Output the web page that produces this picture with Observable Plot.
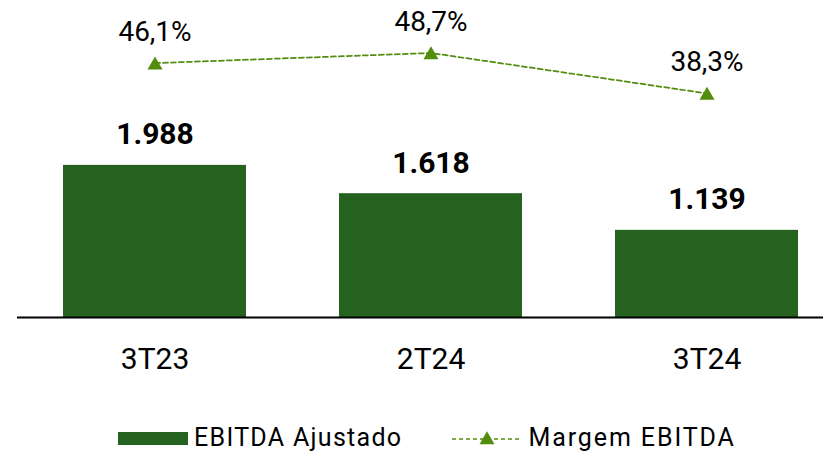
<!DOCTYPE html>
<html>
<head>
<meta charset="utf-8">
<script src="https://cdn.jsdelivr.net/npm/d3@7"></script>
<script src="https://cdn.jsdelivr.net/npm/@observablehq/plot@0.6"></script>
<style>
  html, body { margin: 0; padding: 0; background: #fff; }
  body { width: 823px; height: 452px; overflow: hidden; font-family: Roboto, sans-serif; }
  #chart { height: 412px; }
  #legend { display: flex; align-items: center; height: 28px; line-height: 28px; margin-top: 12px; padding-left: 118px; font-size: 25px; letter-spacing: 1.3px; color: #000; white-space: nowrap; }
  #legend .item { display: flex; align-items: center; }
</style>
</head>
<body>
<div id="chart"></div>
<div id="legend"></div>
<script>
const categories = ["3T23", "2T24", "3T24"];
const ebitdaAjustado = [1988, 1618, 1139];
const margemEbitda = [46.1, 48.7, 38.3];
const seriesNames = ["EBITDA Ajustado", "Margem EBITDA"];

const barColor = "#25621f";
const lineColor = "#538d0e";

const locale = d3.formatLocale({decimal: ",", thousands: ".", grouping: [3], currency: ["R$", ""]});
const fmtInt = locale.format(",d");
const fmtPct = locale.format(".1f");

const data = categories.map((c, i) => ({periodo: c, ebitda: ebitdaAjustado[i], margem: margemEbitda[i]}));

// secondary (percent) axis mapped onto the bar value scale
const pctScale = d3.scaleLinear().domain([0, 100]).range([981, 981 + 5084]);

const chart = Plot.plot({
  width: 823,
  height: 412,
  marginTop: 0,
  marginBottom: 95,
  marginLeft: 17,
  marginRight: 0,
  style: {fontFamily: "Roboto", color: "#000", background: "white"},
  x: {domain: categories, paddingInner: 0.337, paddingOuter: 0.1286, align: 0.648, label: null},
  y: {domain: [0, 4143], axis: null},
  marks: [
    Plot.barY(data, {x: "periodo", y: "ebitda", fill: barColor}),
    Plot.ruleY([0], {stroke: "#000", strokeWidth: 2}),
    Plot.axisX({tickSize: 0, tickPadding: 30, fontSize: 30, label: null}),
    Plot.text(data, {x: "periodo", y: "ebitda", text: d => fmtInt(d.ebitda), dy: -21, lineAnchor: "bottom", fontSize: 30, fontWeight: "bold", fill: "#000"}),
    Plot.line(data, {x: "periodo", y: d => pctScale(d.margem), stroke: lineColor, strokeWidth: 1.75, strokeDasharray: "5,3"}),
    Plot.dot(data, {x: "periodo", y: d => pctScale(d.margem), symbol: "triangle", r: 5.6, fill: lineColor, stroke: "none", dy: 2}),
    Plot.text(data, {x: "periodo", y: d => pctScale(d.margem), text: d => fmtPct(d.margem) + "%", dy: -22, lineAnchor: "bottom", fontSize: 28, fill: "#000"})
  ]
});
document.getElementById("chart").appendChild(chart);

const legend = document.getElementById("legend");
legend.innerHTML = `
  <div class="item"><div style="width:70px;height:13px;background:${barColor};margin-right:6px"></div><span>${seriesNames[0]}</span></div>
  <div class="item" style="margin-left:50px">
    <svg width="70" height="20" style="margin-right:6px">
      <line x1="0" y1="11" x2="70" y2="11" stroke="${lineColor}" stroke-width="1.5" stroke-dasharray="4,3"></line>
      <path d="${d3.symbol(d3.symbolTriangle, 97)()}" transform="translate(35,12)" fill="${lineColor}"></path>
    </svg>
    <span style="letter-spacing:1.9px">${seriesNames[1]}</span>
  </div>`;
</script>
</body>
</html>
